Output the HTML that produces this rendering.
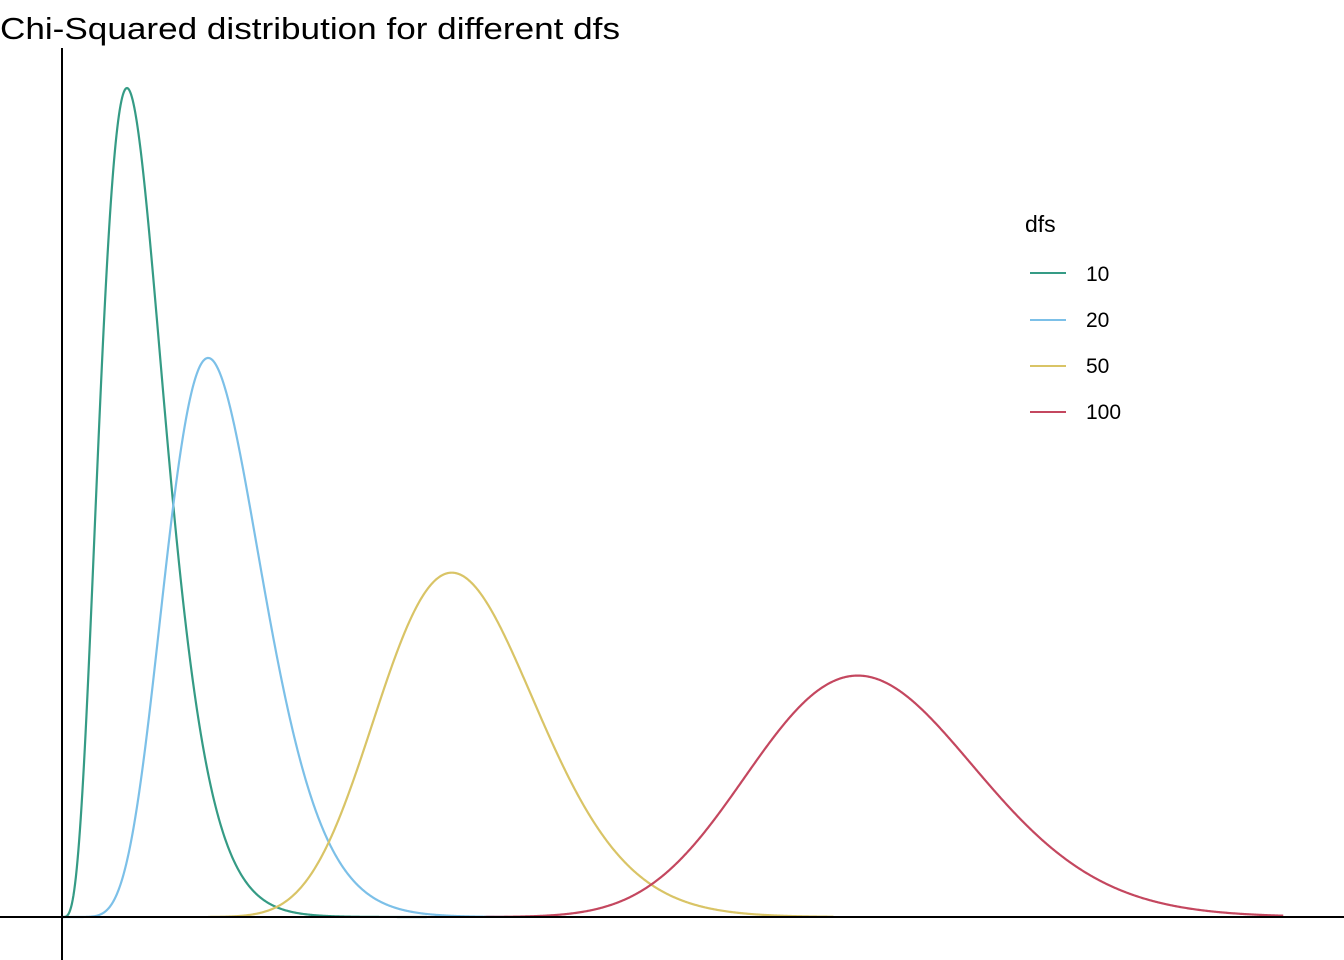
<!DOCTYPE html>
<html><head><meta charset="utf-8"><style>
html,body{margin:0;padding:0;background:#fff;}
svg{display:block;font-family:"Liberation Sans",Arial,sans-serif;}
</style></head><body>
<svg id="s" width="1344" height="960" viewBox="0 0 1344 960">
<text x="0" y="39" font-size="31" textLength="620" lengthAdjust="spacingAndGlyphs" fill="#000">Chi-Squared distribution for different dfs</text>
<g id="curves"></g>
<line x1="62" y1="48" x2="62" y2="960" stroke="#000" stroke-width="2"/>
<line x1="0" y1="917" x2="1344" y2="917" stroke="#000" stroke-width="2"/>
<text x="1025" y="232" font-size="23" fill="#000">dfs</text>
<line x1="1030" y1="273" x2="1066" y2="273" stroke="#359B85" stroke-width="2"/>
<text x="1086" y="281" font-size="21">10</text>
<line x1="1030" y1="320" x2="1066" y2="320" stroke="#7CC0E8" stroke-width="2"/>
<text x="1086" y="327" font-size="21">20</text>
<line x1="1030" y1="366" x2="1066" y2="366" stroke="#D9C466" stroke-width="2"/>
<text x="1086" y="373" font-size="21">50</text>
<line x1="1030" y1="412" x2="1066" y2="412" stroke="#C4475F" stroke-width="2"/>
<text x="1086" y="419" font-size="21">100</text>
</svg>
<script>
(function(){
var g=document.getElementById('curves');
var dfs=[[10,'#359B85',0,45],[20,'#7CC0E8',0,55],[50,'#D9C466',18,95],[100,'#C4475F',52,150.4]];
var x0=62,sx=8.12,y0=917,sy=8486;
dfs.forEach(function(d){
 var k=d[0],h=k/2,lg=0;for(var i=2;i<h;i++)lg+=Math.log(i);
 var pts=[];
 for(var x=Math.max(d[2],0.01);x<=d[3];x+=0.1){
  var lf=(h-1)*Math.log(x)-x/2-h*Math.log(2)-lg;
  var f=Math.exp(lf);
  pts.push((x0+x*sx).toFixed(2)+','+(y0-f*sy).toFixed(2));
 }
 var p=document.createElementNS('http://www.w3.org/2000/svg','polyline');
 p.setAttribute('points',pts.join(' '));
 p.setAttribute('fill','none');p.setAttribute('stroke',d[1]);p.setAttribute('stroke-width','2.2');
 g.appendChild(p);
});
})();
</script>
</body></html>
